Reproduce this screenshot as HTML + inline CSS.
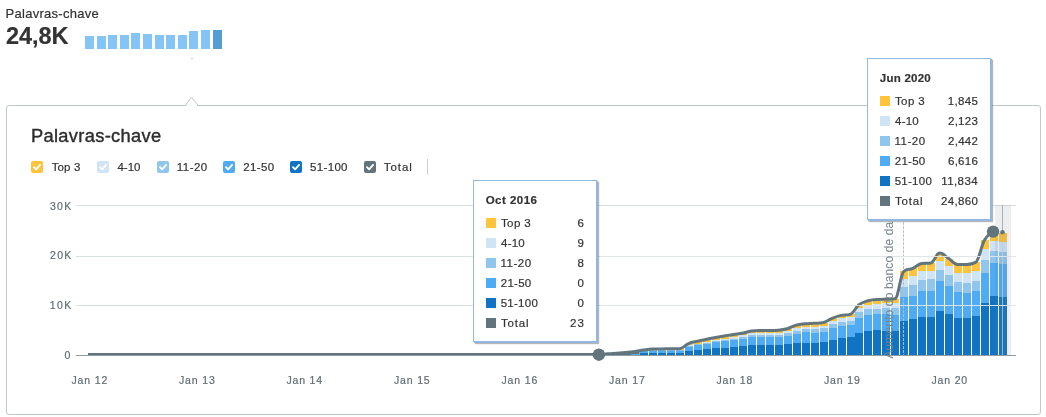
<!DOCTYPE html>
<html lang="pt"><head><meta charset="utf-8"><title>Palavras-chave</title>
<style>
html,body{margin:0;padding:0;background:#fff;}
body{width:1046px;height:417px;position:relative;overflow:hidden;font-family:"Liberation Sans", Arial, sans-serif;}
.t{position:absolute;white-space:nowrap;-webkit-text-stroke:0.2px currentColor;}
.mini i{position:absolute;width:9px;display:block;}
.dot{position:absolute;left:191px;top:58px;width:2px;height:1px;background:#c9cfd2;}
.panel{position:absolute;left:6px;top:105px;width:1033px;height:308px;border:1px solid #c0c8cb;border-radius:3px;background:#fff;}
.notch{position:absolute;left:183px;top:96px;}
.cb{position:absolute;top:161px;width:12px;height:12px;border-radius:2px;}
.cb svg{display:block;}
.sep{position:absolute;left:427px;top:159px;width:1px;height:16px;background:#c9d0d3;}
svg.chart{position:absolute;left:0;top:0;}
.tip{position:absolute;width:122px;height:160px;background:#fff;border:1px solid #92b7e1;box-shadow:1px 1px 0 #92b7e1,2px 2px 1px rgba(80,80,80,.42);font-size:12px;color:#333;}
.sq{position:absolute;width:10px;height:10px;display:block;}
</style></head><body>
<div class="t" style="left:5.52px;top:5px;font-size:13px;line-height:17px;color:#333;letter-spacing:0.280px;">Palavras-chave</div>
<div class="t" style="left:5.89px;top:21px;font-size:23.5px;line-height:31px;color:#333;font-weight:700;letter-spacing:-0.007px;">24,8K</div>
<div class="mini"><i style="left:85px;top:36px;height:12.7px;background:#85c4f7"></i><i style="left:96.6px;top:35.5px;height:13.2px;background:#85c4f7"></i><i style="left:108.2px;top:35px;height:13.7px;background:#85c4f7"></i><i style="left:119.8px;top:35px;height:13.7px;background:#85c4f7"></i><i style="left:131.4px;top:33.2px;height:15.5px;background:#85c4f7"></i><i style="left:143px;top:34px;height:14.7px;background:#85c4f7"></i><i style="left:154.6px;top:35px;height:13.7px;background:#85c4f7"></i><i style="left:166.2px;top:35px;height:13.7px;background:#85c4f7"></i><i style="left:177.8px;top:34.6px;height:14.1px;background:#85c4f7"></i><i style="left:189.4px;top:31px;height:17.7px;background:#85c4f7"></i><i style="left:201px;top:29.9px;height:18.8px;background:#85c4f7"></i><i style="left:212.6px;top:30px;height:18.7px;background:#559cd4"></i></div>
<div class="dot"></div>
<div class="panel"></div>
<svg class="notch" width="17" height="10" viewBox="0 0 17 10"><path d="M3.1,10 L8.4,1.9 L14.6,10 Z" fill="#fff"/><path d="M2.4,9.6 L8.4,1.2 L15.3,9.6" fill="none" stroke="#c0c8cb" stroke-width="1"/></svg>
<div class="t" style="left:30.89px;top:124px;font-size:18.3px;line-height:24px;color:#2d2d2d;letter-spacing:0.329px;-webkit-text-stroke:0.4px #2d2d2d;">Palavras-chave</div>
<div class="cb" style="left:31px;background:#ffc33c"><svg width="12" height="12" viewBox="0 0 12 12"><path d="M3,6.2 L5.1,8.3 L9.1,3.9" fill="none" stroke="#fff" stroke-width="1.9" stroke-linecap="round" stroke-linejoin="round"/></svg></div>
<div class="t" style="left:51.74px;top:160px;font-size:11.5px;line-height:15px;color:#333;letter-spacing:0.121px;">Top 3</div>
<div class="cb" style="left:97px;background:#cfe4f7"><svg width="12" height="12" viewBox="0 0 12 12"><path d="M3,6.2 L5.1,8.3 L9.1,3.9" fill="none" stroke="#fff" stroke-width="1.9" stroke-linecap="round" stroke-linejoin="round"/></svg></div>
<div class="t" style="left:117.39px;top:160px;font-size:11.5px;line-height:15px;color:#333;letter-spacing:0.037px;">4-10</div>
<div class="cb" style="left:157px;background:#90c5ee"><svg width="12" height="12" viewBox="0 0 12 12"><path d="M3,6.2 L5.1,8.3 L9.1,3.9" fill="none" stroke="#fff" stroke-width="1.9" stroke-linecap="round" stroke-linejoin="round"/></svg></div>
<div class="t" style="left:176.79px;top:160px;font-size:11.5px;line-height:15px;color:#333;letter-spacing:0.463px;">11-20</div>
<div class="cb" style="left:223px;background:#4fabf4"><svg width="12" height="12" viewBox="0 0 12 12"><path d="M3,6.2 L5.1,8.3 L9.1,3.9" fill="none" stroke="#fff" stroke-width="1.9" stroke-linecap="round" stroke-linejoin="round"/></svg></div>
<div class="t" style="left:243.30px;top:160px;font-size:11.5px;line-height:15px;color:#333;letter-spacing:0.379px;">21-50</div>
<div class="cb" style="left:290px;background:#1173c4"><svg width="12" height="12" viewBox="0 0 12 12"><path d="M3,6.2 L5.1,8.3 L9.1,3.9" fill="none" stroke="#fff" stroke-width="1.9" stroke-linecap="round" stroke-linejoin="round"/></svg></div>
<div class="t" style="left:310.12px;top:160px;font-size:11.5px;line-height:15px;color:#333;letter-spacing:0.317px;">51-100</div>
<div class="cb" style="left:364px;background:#62757d"><svg width="12" height="12" viewBox="0 0 12 12"><path d="M3,6.2 L5.1,8.3 L9.1,3.9" fill="none" stroke="#fff" stroke-width="1.9" stroke-linecap="round" stroke-linejoin="round"/></svg></div>
<div class="t" style="left:383.84px;top:160px;font-size:11.5px;line-height:15px;color:#333;letter-spacing:0.910px;">Total</div>
<div class="sep"></div>
<div class="t" style="left:49.89px;top:199px;font-size:10.5px;line-height:14px;color:#626d73;letter-spacing:1.380px;">30K</div>
<div class="t" style="left:49.94px;top:248px;font-size:10.5px;line-height:14px;color:#626d73;letter-spacing:1.353px;">20K</div>
<div class="t" style="left:49.65px;top:298px;font-size:10.5px;line-height:14px;color:#626d73;letter-spacing:1.498px;">10K</div>
<div class="t" style="left:64.44px;top:348px;font-size:10.5px;line-height:14px;color:#626d73;">0</div>
<div class="t" style="left:71.47px;top:373px;font-size:10.5px;line-height:14px;color:#626d73;letter-spacing:0.856px;">Jan 12</div>
<div class="t" style="left:178.97px;top:373px;font-size:10.5px;line-height:14px;color:#626d73;letter-spacing:0.851px;">Jan 13</div>
<div class="t" style="left:286.47px;top:373px;font-size:10.5px;line-height:14px;color:#626d73;letter-spacing:0.823px;">Jan 14</div>
<div class="t" style="left:393.97px;top:373px;font-size:10.5px;line-height:14px;color:#626d73;letter-spacing:0.844px;">Jan 15</div>
<div class="t" style="left:501.47px;top:373px;font-size:10.5px;line-height:14px;color:#626d73;letter-spacing:0.849px;">Jan 16</div>
<div class="t" style="left:608.97px;top:373px;font-size:10.5px;line-height:14px;color:#626d73;letter-spacing:0.856px;">Jan 17</div>
<div class="t" style="left:716.47px;top:373px;font-size:10.5px;line-height:14px;color:#626d73;letter-spacing:0.846px;">Jan 18</div>
<div class="t" style="left:823.97px;top:373px;font-size:10.5px;line-height:14px;color:#626d73;letter-spacing:0.855px;">Jan 19</div>
<div class="t" style="left:931.47px;top:373px;font-size:10.5px;line-height:14px;color:#626d73;letter-spacing:0.840px;">Jan 20</div>
<svg class="chart" width="1046" height="417" viewBox="0 0 1046 417">
<rect x="76" y="205" width="940" height="1" fill="#d9e0e4"/>
<rect x="76" y="256" width="940" height="1" fill="#d9e0e4"/>
<rect x="76" y="305" width="940" height="1" fill="#d9e0e4"/>
<rect x="76" y="355" width="940" height="1" fill="#8f9da3"/>
<path d="M600,355 L600,354 L607.8,353.7 L616.8,353.2 L625.8,352.6 L634.7,351.6 L639.6,350.8 L639.6,355 Z" fill="#62757d"/>
<g shape-rendering="crispEdges"><rect x="604" y="354.9" width="8" height="0.1" fill="#1173c4"/><rect x="604" y="354.8" width="8" height="0.1" fill="#4fabf4"/><rect x="613" y="354.9" width="8" height="0.1" fill="#1173c4"/><rect x="613" y="354.7" width="8" height="0.2" fill="#4fabf4"/><rect x="622" y="354.8" width="8" height="0.2" fill="#1173c4"/><rect x="622" y="354.6" width="8" height="0.2" fill="#4fabf4"/><rect x="631" y="354.7" width="8" height="0.3" fill="#1173c4"/><rect x="631" y="354.3" width="8" height="0.4" fill="#4fabf4"/><rect x="640" y="353" width="8" height="2" fill="#1173c4"/><rect x="640" y="351.4" width="8" height="1.6" fill="#4fabf4"/><rect x="640" y="351" width="8" height="0.4" fill="#90c5ee"/><rect x="640" y="350.7" width="8" height="0.3" fill="#cfe4f7"/><rect x="640" y="350" width="8" height="0.7" fill="#ffc33c"/><rect x="649" y="353.1" width="8" height="1.9" fill="#1173c4"/><rect x="649" y="350.8" width="8" height="2.3" fill="#4fabf4"/><rect x="649" y="350.2" width="8" height="0.6" fill="#90c5ee"/><rect x="649" y="349.8" width="8" height="0.4" fill="#cfe4f7"/><rect x="649" y="349" width="8" height="0.8" fill="#ffc33c"/><rect x="658" y="353.1" width="8" height="1.9" fill="#1173c4"/><rect x="658" y="350.7" width="8" height="2.4" fill="#4fabf4"/><rect x="658" y="350.1" width="8" height="0.6" fill="#90c5ee"/><rect x="658" y="349.7" width="8" height="0.4" fill="#cfe4f7"/><rect x="658" y="348.9" width="8" height="0.8" fill="#ffc33c"/><rect x="667" y="353.1" width="8" height="1.9" fill="#1173c4"/><rect x="667" y="350.7" width="8" height="2.4" fill="#4fabf4"/><rect x="667" y="350.1" width="8" height="0.6" fill="#90c5ee"/><rect x="667" y="349.7" width="8" height="0.4" fill="#cfe4f7"/><rect x="667" y="348.8" width="8" height="0.9" fill="#ffc33c"/><rect x="676" y="353.1" width="8" height="1.9" fill="#1173c4"/><rect x="676" y="350.7" width="8" height="2.4" fill="#4fabf4"/><rect x="676" y="350.1" width="8" height="0.6" fill="#90c5ee"/><rect x="676" y="349.6" width="8" height="0.5" fill="#cfe4f7"/><rect x="676" y="348.7" width="8" height="0.9" fill="#ffc33c"/><rect x="685" y="350.9" width="8" height="4.1" fill="#1173c4"/><rect x="685" y="346.9" width="8" height="4" fill="#4fabf4"/><rect x="685" y="345.9" width="8" height="1" fill="#90c5ee"/><rect x="685" y="345.15" width="8" height="0.75" fill="#cfe4f7"/><rect x="685" y="343.6" width="8" height="1.55" fill="#ffc33c"/><rect x="694" y="350" width="8" height="5" fill="#1173c4"/><rect x="694" y="345.2" width="8" height="4.8" fill="#4fabf4"/><rect x="694" y="344.3" width="8" height="0.9" fill="#90c5ee"/><rect x="694" y="343.6" width="8" height="0.7" fill="#cfe4f7"/><rect x="694" y="341.2" width="8" height="2.4" fill="#ffc33c"/><rect x="703" y="349.1" width="8" height="5.9" fill="#1173c4"/><rect x="703" y="343.8" width="8" height="5.3" fill="#4fabf4"/><rect x="703" y="342.8" width="8" height="1" fill="#90c5ee"/><rect x="703" y="342" width="8" height="0.8" fill="#cfe4f7"/><rect x="703" y="339.3" width="8" height="2.7" fill="#ffc33c"/><rect x="712" y="348.1" width="8" height="6.9" fill="#1173c4"/><rect x="712" y="341.9" width="8" height="6.2" fill="#4fabf4"/><rect x="712" y="340.8" width="8" height="1.1" fill="#90c5ee"/><rect x="712" y="340" width="8" height="0.8" fill="#cfe4f7"/><rect x="712" y="337.6" width="8" height="2.4" fill="#ffc33c"/><rect x="721" y="348.1" width="8" height="6.9" fill="#1173c4"/><rect x="721" y="340.9" width="8" height="7.2" fill="#4fabf4"/><rect x="721" y="339.7" width="8" height="1.2" fill="#90c5ee"/><rect x="721" y="338.8" width="8" height="0.9" fill="#cfe4f7"/><rect x="721" y="336" width="8" height="2.8" fill="#ffc33c"/><rect x="730" y="347.1" width="8" height="7.9" fill="#1173c4"/><rect x="730" y="339.95" width="8" height="7.15" fill="#4fabf4"/><rect x="730" y="338.5" width="8" height="1.45" fill="#90c5ee"/><rect x="730" y="337.3" width="8" height="1.2" fill="#cfe4f7"/><rect x="730" y="334.4" width="8" height="2.9" fill="#ffc33c"/><rect x="739" y="346" width="8" height="9" fill="#1173c4"/><rect x="739" y="338.8" width="8" height="7.2" fill="#4fabf4"/><rect x="739" y="337.3" width="8" height="1.5" fill="#90c5ee"/><rect x="739" y="335.1" width="8" height="2.2" fill="#cfe4f7"/><rect x="739" y="333.3" width="8" height="1.8" fill="#ffc33c"/><rect x="748" y="345" width="8" height="10" fill="#1173c4"/><rect x="748" y="337.1" width="8" height="7.9" fill="#4fabf4"/><rect x="748" y="335.1" width="8" height="2" fill="#90c5ee"/><rect x="748" y="333.3" width="8" height="1.8" fill="#cfe4f7"/><rect x="748" y="331.1" width="8" height="2.2" fill="#ffc33c"/><rect x="757" y="345" width="8" height="10" fill="#1173c4"/><rect x="757" y="337.1" width="8" height="7.9" fill="#4fabf4"/><rect x="757" y="335.1" width="8" height="2" fill="#90c5ee"/><rect x="757" y="333.3" width="8" height="1.8" fill="#cfe4f7"/><rect x="757" y="330.6" width="8" height="2.7" fill="#ffc33c"/><rect x="766" y="345" width="8" height="10" fill="#1173c4"/><rect x="766" y="337.1" width="8" height="7.9" fill="#4fabf4"/><rect x="766" y="335.1" width="8" height="2" fill="#90c5ee"/><rect x="766" y="333.3" width="8" height="1.8" fill="#cfe4f7"/><rect x="766" y="330.6" width="8" height="2.7" fill="#ffc33c"/><rect x="775" y="345" width="8" height="10" fill="#1173c4"/><rect x="775" y="337.1" width="8" height="7.9" fill="#4fabf4"/><rect x="775" y="335.4" width="8" height="1.7" fill="#90c5ee"/><rect x="775" y="333.3" width="8" height="2.1" fill="#cfe4f7"/><rect x="775" y="330.3" width="8" height="3" fill="#ffc33c"/><rect x="784" y="344.1" width="8" height="10.9" fill="#1173c4"/><rect x="784" y="336.1" width="8" height="8" fill="#4fabf4"/><rect x="784" y="333" width="8" height="3.1" fill="#90c5ee"/><rect x="784" y="330.9" width="8" height="2.1" fill="#cfe4f7"/><rect x="784" y="328.8" width="8" height="2.1" fill="#ffc33c"/><rect x="793" y="343.1" width="8" height="11.9" fill="#1173c4"/><rect x="793" y="334" width="8" height="9.1" fill="#4fabf4"/><rect x="793" y="330.9" width="8" height="3.1" fill="#90c5ee"/><rect x="793" y="328.2" width="8" height="2.7" fill="#cfe4f7"/><rect x="793" y="325.1" width="8" height="3.1" fill="#ffc33c"/><rect x="802" y="343.1" width="8" height="11.9" fill="#1173c4"/><rect x="802" y="332.1" width="8" height="11" fill="#4fabf4"/><rect x="802" y="329.2" width="8" height="2.9" fill="#90c5ee"/><rect x="802" y="327.1" width="8" height="2.1" fill="#cfe4f7"/><rect x="802" y="323.8" width="8" height="3.3" fill="#ffc33c"/><rect x="811" y="343.1" width="8" height="11.9" fill="#1173c4"/><rect x="811" y="333" width="8" height="10.1" fill="#4fabf4"/><rect x="811" y="329.2" width="8" height="3.8" fill="#90c5ee"/><rect x="811" y="327.1" width="8" height="2.1" fill="#cfe4f7"/><rect x="811" y="323.3" width="8" height="3.8" fill="#ffc33c"/><rect x="820" y="342" width="8" height="13" fill="#1173c4"/><rect x="820" y="331.8" width="8" height="10.2" fill="#4fabf4"/><rect x="820" y="328" width="8" height="3.8" fill="#90c5ee"/><rect x="820" y="325.7" width="8" height="2.3" fill="#cfe4f7"/><rect x="820" y="322.6" width="8" height="3.1" fill="#ffc33c"/><rect x="829" y="339.9" width="8" height="15.1" fill="#1173c4"/><rect x="829" y="328" width="8" height="11.9" fill="#4fabf4"/><rect x="829" y="324.4" width="8" height="3.6" fill="#90c5ee"/><rect x="829" y="320.7" width="8" height="3.7" fill="#cfe4f7"/><rect x="829" y="318.3" width="8" height="2.4" fill="#ffc33c"/><rect x="838" y="338" width="8" height="17" fill="#1173c4"/><rect x="838" y="326.3" width="8" height="11.7" fill="#4fabf4"/><rect x="838" y="321.5" width="8" height="4.8" fill="#90c5ee"/><rect x="838" y="318.1" width="8" height="3.4" fill="#cfe4f7"/><rect x="838" y="315.4" width="8" height="2.7" fill="#ffc33c"/><rect x="847" y="337.1" width="8" height="17.9" fill="#1173c4"/><rect x="847" y="325.2" width="8" height="11.9" fill="#4fabf4"/><rect x="847" y="320.7" width="8" height="4.5" fill="#90c5ee"/><rect x="847" y="316.9" width="8" height="3.8" fill="#cfe4f7"/><rect x="847" y="314.4" width="8" height="2.5" fill="#ffc33c"/><rect x="855" y="333.1" width="8" height="21.9" fill="#1173c4"/><rect x="855" y="318.1" width="8" height="15" fill="#4fabf4"/><rect x="855" y="312.1" width="8" height="6" fill="#90c5ee"/><rect x="855" y="308.1" width="8" height="4" fill="#cfe4f7"/><rect x="855" y="304.8" width="8" height="3.3" fill="#ffc33c"/><rect x="864" y="330.5" width="8" height="24.5" fill="#1173c4"/><rect x="864" y="315" width="8" height="15.5" fill="#4fabf4"/><rect x="864" y="309" width="8" height="6" fill="#90c5ee"/><rect x="864" y="304.9" width="8" height="4.1" fill="#cfe4f7"/><rect x="864" y="300.8" width="8" height="4.1" fill="#ffc33c"/><rect x="873" y="330" width="8" height="25" fill="#1173c4"/><rect x="873" y="314.3" width="8" height="15.7" fill="#4fabf4"/><rect x="873" y="308.6" width="8" height="5.7" fill="#90c5ee"/><rect x="873" y="304.2" width="8" height="4.4" fill="#cfe4f7"/><rect x="873" y="299.6" width="8" height="4.6" fill="#ffc33c"/><rect x="882" y="330.5" width="8" height="24.5" fill="#1173c4"/><rect x="882" y="314.3" width="8" height="16.2" fill="#4fabf4"/><rect x="882" y="308.1" width="8" height="6.2" fill="#90c5ee"/><rect x="882" y="303.3" width="8" height="4.8" fill="#cfe4f7"/><rect x="882" y="299.1" width="8" height="4.2" fill="#ffc33c"/><rect x="891" y="330.5" width="8" height="24.5" fill="#1173c4"/><rect x="891" y="315" width="8" height="15.5" fill="#4fabf4"/><rect x="891" y="308.1" width="8" height="6.9" fill="#90c5ee"/><rect x="891" y="303.3" width="8" height="4.8" fill="#cfe4f7"/><rect x="891" y="298.8" width="8" height="4.5" fill="#ffc33c"/><rect x="900" y="320.8" width="8" height="34.2" fill="#1173c4"/><rect x="900" y="297.3" width="8" height="23.5" fill="#4fabf4"/><rect x="900" y="286.6" width="8" height="10.7" fill="#90c5ee"/><rect x="900" y="278.8" width="8" height="7.8" fill="#cfe4f7"/><rect x="900" y="271.4" width="8" height="7.4" fill="#ffc33c"/><rect x="909" y="319.2" width="8" height="35.8" fill="#1173c4"/><rect x="909" y="295.6" width="8" height="23.6" fill="#4fabf4"/><rect x="909" y="284.5" width="8" height="11.1" fill="#90c5ee"/><rect x="909" y="275.7" width="8" height="8.8" fill="#cfe4f7"/><rect x="909" y="268.4" width="8" height="7.3" fill="#ffc33c"/><rect x="918" y="316.8" width="8" height="38.2" fill="#1173c4"/><rect x="918" y="291.3" width="8" height="25.5" fill="#4fabf4"/><rect x="918" y="280" width="8" height="11.3" fill="#90c5ee"/><rect x="918" y="271" width="8" height="9" fill="#cfe4f7"/><rect x="918" y="263.4" width="8" height="7.6" fill="#ffc33c"/><rect x="927" y="316.8" width="8" height="38.2" fill="#1173c4"/><rect x="927" y="290.6" width="8" height="26.2" fill="#4fabf4"/><rect x="927" y="279.1" width="8" height="11.5" fill="#90c5ee"/><rect x="927" y="271" width="8" height="8.1" fill="#cfe4f7"/><rect x="927" y="263" width="8" height="8" fill="#ffc33c"/><rect x="936" y="311.4" width="8" height="43.6" fill="#1173c4"/><rect x="936" y="281.2" width="8" height="30.2" fill="#4fabf4"/><rect x="936" y="270" width="8" height="11.2" fill="#90c5ee"/><rect x="936" y="260.8" width="8" height="9.2" fill="#cfe4f7"/><rect x="936" y="253.1" width="8" height="7.7" fill="#ffc33c"/><rect x="945" y="313.5" width="8" height="41.5" fill="#1173c4"/><rect x="945" y="285.6" width="8" height="27.9" fill="#4fabf4"/><rect x="945" y="275.2" width="8" height="10.4" fill="#90c5ee"/><rect x="945" y="266" width="8" height="9.2" fill="#cfe4f7"/><rect x="945" y="258.5" width="8" height="7.5" fill="#ffc33c"/><rect x="954" y="317.5" width="8" height="37.5" fill="#1173c4"/><rect x="954" y="292.3" width="8" height="25.2" fill="#4fabf4"/><rect x="954" y="282.2" width="8" height="10.1" fill="#90c5ee"/><rect x="954" y="273.1" width="8" height="9.1" fill="#cfe4f7"/><rect x="954" y="264.4" width="8" height="8.7" fill="#ffc33c"/><rect x="963" y="317.5" width="8" height="37.5" fill="#1173c4"/><rect x="963" y="293" width="8" height="24.5" fill="#4fabf4"/><rect x="963" y="282.9" width="8" height="10.1" fill="#90c5ee"/><rect x="963" y="273.1" width="8" height="9.8" fill="#cfe4f7"/><rect x="963" y="264.4" width="8" height="8.7" fill="#ffc33c"/><rect x="972" y="315.8" width="8" height="39.2" fill="#1173c4"/><rect x="972" y="291.3" width="8" height="24.5" fill="#4fabf4"/><rect x="972" y="281.2" width="8" height="10.1" fill="#90c5ee"/><rect x="972" y="271.1" width="8" height="10.1" fill="#cfe4f7"/><rect x="972" y="262.4" width="8" height="8.7" fill="#ffc33c"/><rect x="981" y="303.4" width="8" height="51.6" fill="#1173c4"/><rect x="981" y="273.1" width="8" height="30.3" fill="#4fabf4"/><rect x="981" y="260" width="8" height="13.1" fill="#90c5ee"/><rect x="981" y="249" width="8" height="11" fill="#cfe4f7"/><rect x="981" y="240.1" width="8" height="8.9" fill="#ffc33c"/><rect x="990" y="296.2" width="8" height="58.8" fill="#1173c4"/><rect x="990" y="263.4" width="8" height="32.8" fill="#4fabf4"/><rect x="990" y="251.2" width="8" height="12.2" fill="#90c5ee"/><rect x="990" y="240.7" width="8" height="10.5" fill="#cfe4f7"/><rect x="990" y="231.5" width="8" height="9.2" fill="#ffc33c"/><rect x="999" y="297.1" width="8" height="57.9" fill="#1173c4"/><rect x="999" y="263.8" width="8" height="33.3" fill="#4fabf4"/><rect x="999" y="252.1" width="8" height="11.7" fill="#90c5ee"/><rect x="999" y="242.2" width="8" height="9.9" fill="#cfe4f7"/><rect x="999" y="232.6" width="8" height="9.6" fill="#ffc33c"/></g>
<rect x="995" y="205" width="16" height="150" fill="#6b7f88" opacity="0.13"/>
<rect x="1002" y="205" width="1" height="27" fill="#a7b1b6"/>
<rect x="1002" y="242" width="1" height="113" fill="#c3ccd1" opacity="0.75"/>
<line x1="903.5" y1="205" x2="903.5" y2="355" stroke="#b3bdc2" stroke-width="1" stroke-dasharray="2.6,1.4" stroke-dashoffset="-1.26"/>
<clipPath id="pc"><rect x="76" y="190" width="940" height="165"/></clipPath>
<path d="M88,354.6C88,354.6 389.13,354.6 589.88,354.6C593.47,354.6 595.26,354.6 598.85,354.6C602.44,354.6 604.23,353.98 607.82,353.7C611.41,353.42 613.2,353.42 616.79,353.2C620.38,352.98 622.17,352.92 625.76,352.6C629.35,352.28 631.14,352.12 634.73,351.6C638.32,351.08 640.11,350.52 643.7,350C647.29,349.48 649.08,349.1 652.67,349C656.26,348.9 658.05,348.94 661.64,348.9C665.23,348.86 667.02,348.84 670.61,348.8C674.2,348.76 675.99,348.8 679.58,348.7C683.17,348.6 684.96,345.1 688.55,343.6C692.14,342.1 693.93,342.06 697.52,341.2C701.11,340.34 702.9,340.02 706.49,339.3C710.08,338.58 711.87,338.26 715.46,337.6C719.05,336.94 720.84,336.64 724.43,336C728.02,335.36 729.81,334.94 733.4,334.4C736.99,333.86 738.78,333.96 742.37,333.3C745.96,332.64 747.75,331.6 751.34,331.1C754.93,330.6 756.72,330.6 760.31,330.6C763.9,330.6 765.69,330.6 769.28,330.6C772.87,330.6 774.66,330.6 778.25,330.3C781.84,330 783.63,329.84 787.22,328.8C790.81,327.76 792.6,326.1 796.19,325.1C799.78,324.1 801.57,324.16 805.16,323.8C808.75,323.44 810.54,323.54 814.13,323.3C817.72,323.06 819.51,323.3 823.1,322.6C826.69,321.9 828.48,319.74 832.07,318.3C835.66,316.86 837.45,316.18 841.04,315.4C844.63,314.62 846.42,315.4 850.01,314.4C853.6,313.4 855.39,307.52 858.98,304.8C862.57,302.08 864.36,301.84 867.95,300.8C871.54,299.76 873.33,299.94 876.92,299.6C880.51,299.26 882.3,299.26 885.89,299.1C889.48,298.94 891.27,299.1 894.86,298.8C898.45,298.5 900.24,274.4 903.83,271.4C907.42,268.4 909.21,270 912.8,268.4C916.39,266.8 918.18,263.8 921.77,263.4C925.36,263 927.15,263.4 930.74,263C934.33,262.6 936.12,253.1 939.71,253.1C943.3,253.1 945.09,256.24 948.68,258.5C952.27,260.76 954.06,264.4 957.65,264.4C961.24,264.4 963.03,264.4 966.62,264.4C970.21,264.4 972,264.4 975.59,262.4C979.18,260.4 980.97,246.28 984.56,240.1C988.15,233.92 993.53,231.5 993.53,231.5" fill="none" stroke="#62757d" stroke-width="3" stroke-linejoin="round" stroke-linecap="butt" clip-path="url(#pc)"/>
<rect x="600" y="256" width="416" height="1" fill="#dfe5e9" opacity="0.92"/>
<rect x="600" y="305" width="416" height="1" fill="#dfe5e9" opacity="0.92"/>
<circle cx="1002.5" cy="232.2" r="2.3" fill="#62757d"/>
<circle cx="993.03" cy="231.6" r="6.2" fill="#62757d"/>
<circle cx="598.9" cy="354.7" r="6.2" fill="#62757d"/>
<text transform="translate(892.7,358.5) rotate(-90)" font-family='"Liberation Sans", Arial, sans-serif' font-size="12" fill="#75838a" textLength="156.5" lengthAdjust="spacing">Aumento do banco de dados</text>
</svg>
<div class="tip" style="left:473px;top:180px"></div>
<div class="t" style="left:485.65px;top:193px;font-size:11.5px;line-height:15px;color:#333;font-weight:700;letter-spacing:0.489px;">Oct 2016</div>
<i class="sq" style="left:486px;top:218px;background:#ffc33c"></i>
<div class="t" style="left:500.94px;top:216px;font-size:11.5px;line-height:15px;color:#333;letter-spacing:0.421px;">Top 3</div>
<div class="t" style="left:577.58px;top:216px;font-size:11.5px;line-height:15px;color:#333;">6</div>
<i class="sq" style="left:486px;top:238px;background:#cfe4f7"></i>
<div class="t" style="left:501.09px;top:236px;font-size:11.5px;line-height:15px;color:#333;letter-spacing:0.203px;">4-10</div>
<div class="t" style="left:577.62px;top:236px;font-size:11.5px;line-height:15px;color:#333;">9</div>
<i class="sq" style="left:486px;top:258px;background:#90c5ee"></i>
<div class="t" style="left:500.49px;top:256px;font-size:11.5px;line-height:15px;color:#333;letter-spacing:0.513px;">11-20</div>
<div class="t" style="left:577.57px;top:256px;font-size:11.5px;line-height:15px;color:#333;">8</div>
<i class="sq" style="left:486px;top:278px;background:#4fabf4"></i>
<div class="t" style="left:500.80px;top:276px;font-size:11.5px;line-height:15px;color:#333;letter-spacing:0.254px;">21-50</div>
<div class="t" style="left:577.51px;top:276px;font-size:11.5px;line-height:15px;color:#333;">0</div>
<i class="sq" style="left:486px;top:298px;background:#1173c4"></i>
<div class="t" style="left:500.72px;top:296px;font-size:11.5px;line-height:15px;color:#333;letter-spacing:0.257px;">51-100</div>
<div class="t" style="left:577.51px;top:296px;font-size:11.5px;line-height:15px;color:#333;">0</div>
<i class="sq" style="left:486px;top:318px;background:#62757d"></i>
<div class="t" style="left:500.94px;top:316px;font-size:11.5px;line-height:15px;color:#333;letter-spacing:0.835px;">Total</div>
<div class="t" style="left:570.00px;top:316px;font-size:11.5px;line-height:15px;color:#333;letter-spacing:1.067px;">23</div>
<div class="tip" style="left:867px;top:58px"></div>
<div class="t" style="left:879.76px;top:71px;font-size:11.5px;line-height:15px;color:#333;font-weight:700;letter-spacing:0.248px;">Jun 2020</div>
<i class="sq" style="left:880px;top:96px;background:#ffc33c"></i>
<div class="t" style="left:894.94px;top:94px;font-size:11.5px;line-height:15px;color:#333;letter-spacing:0.421px;">Top 3</div>
<div class="t" style="left:947.69px;top:94px;font-size:11.5px;line-height:15px;color:#333;letter-spacing:0.337px;">1,845</div>
<i class="sq" style="left:880px;top:116px;background:#cfe4f7"></i>
<div class="t" style="left:895.09px;top:114px;font-size:11.5px;line-height:15px;color:#333;letter-spacing:0.203px;">4-10</div>
<div class="t" style="left:948.00px;top:114px;font-size:11.5px;line-height:15px;color:#333;letter-spacing:0.267px;">2,123</div>
<i class="sq" style="left:880px;top:136px;background:#90c5ee"></i>
<div class="t" style="left:894.49px;top:134px;font-size:11.5px;line-height:15px;color:#333;letter-spacing:0.513px;">11-20</div>
<div class="t" style="left:948.00px;top:134px;font-size:11.5px;line-height:15px;color:#333;letter-spacing:0.292px;">2,442</div>
<i class="sq" style="left:880px;top:156px;background:#4fabf4"></i>
<div class="t" style="left:894.80px;top:154px;font-size:11.5px;line-height:15px;color:#333;letter-spacing:0.254px;">21-50</div>
<div class="t" style="left:947.98px;top:154px;font-size:11.5px;line-height:15px;color:#333;letter-spacing:0.270px;">6,616</div>
<i class="sq" style="left:880px;top:176px;background:#1173c4"></i>
<div class="t" style="left:894.72px;top:174px;font-size:11.5px;line-height:15px;color:#333;letter-spacing:0.257px;">51-100</div>
<div class="t" style="left:941.19px;top:174px;font-size:11.5px;line-height:15px;color:#333;letter-spacing:0.429px;">11,834</div>
<i class="sq" style="left:880px;top:196px;background:#62757d"></i>
<div class="t" style="left:894.94px;top:194px;font-size:11.5px;line-height:15px;color:#333;letter-spacing:0.835px;">Total</div>
<div class="t" style="left:941.10px;top:194px;font-size:11.5px;line-height:15px;color:#333;letter-spacing:0.333px;">24,860</div>
</body></html>
